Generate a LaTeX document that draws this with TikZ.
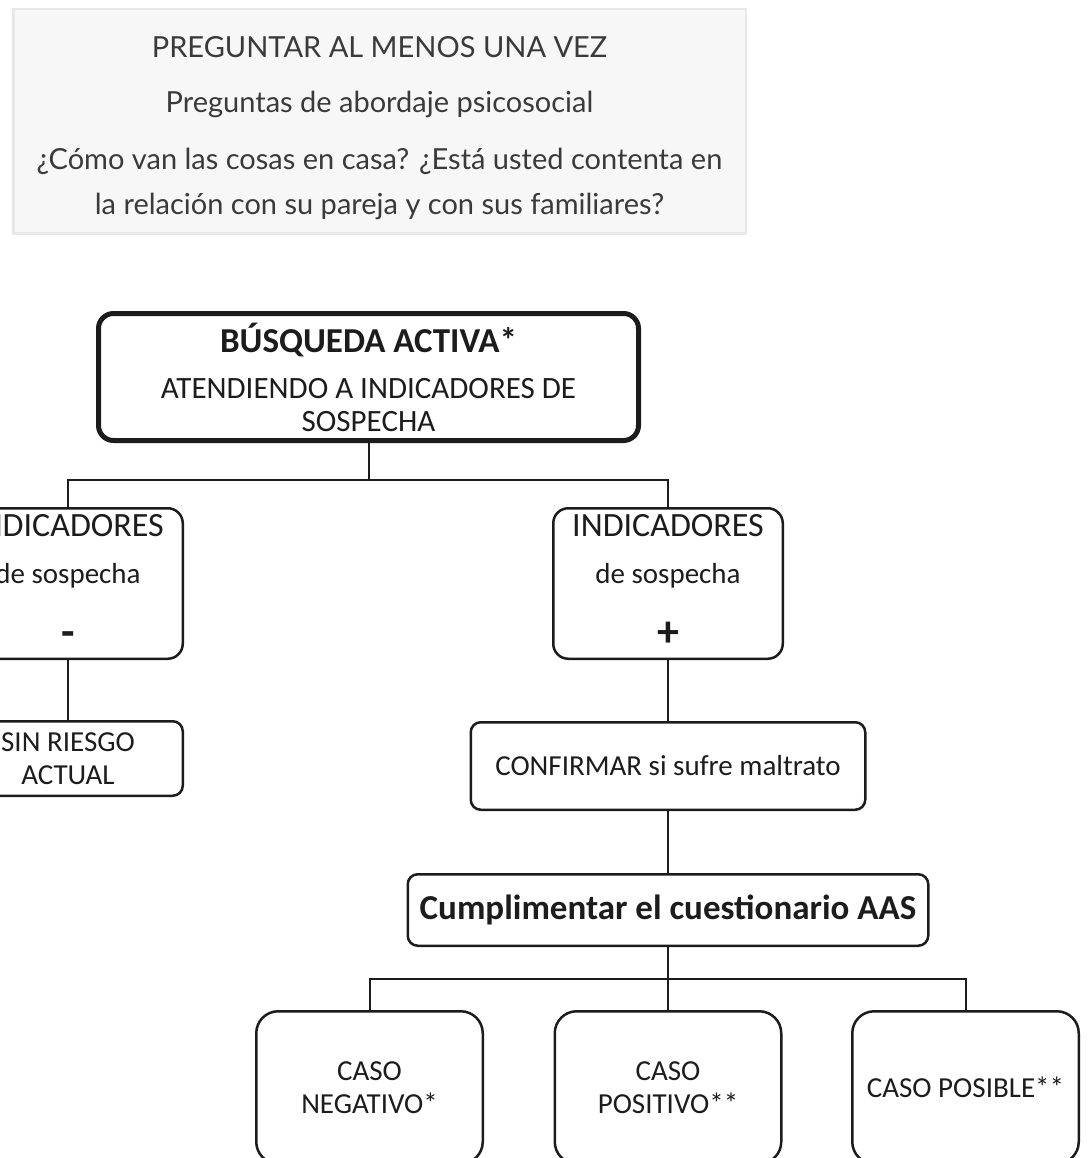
\documentclass[tikz,border=0pt]{standalone}
\usepackage{fontspec}
\setmainfont{Carlito}
\newfontfamily\askfont{Lato}
\usetikzlibrary{positioning}
\definecolor{ink}{HTML}{1C1C1C}
\definecolor{askfill}{HTML}{F7F7F7}
\definecolor{askline}{HTML}{E8E8E8}
\definecolor{asktext}{HTML}{3A3A3A}

\begin{document}
\begin{tikzpicture}
[every node/.style={inner sep=0pt},
 box/.style={draw=ink, line width=2.5pt, rounded corners=10pt, align=center, text=ink, font=\fontsize{29}{33}\selectfont},
 bigbox/.style={box, line width=5pt, rounded corners=15pt},
 indbox/.style={box, rounded corners=15pt, minimum width=229.5pt, minimum height=150.5pt},
 casebox/.style={box, rounded corners=22pt, minimum width=226.5pt, minimum height=152.5pt},
 askbox/.style={fill=askfill, draw=askline, line width=2.5pt, align=center, text=asktext, font=\askfont\fontsize{29}{45}\selectfont},
 link/.style={draw=ink, line width=2pt}]
\useasboundingbox (0pt, 0pt) rectangle (1089pt, -1158pt);
\clip (0pt, 0pt) rectangle (1089pt, -1158pt);
\node (ask) [askbox, minimum width=732.5pt, minimum height=224.5pt] at (379.5pt, -121.5pt) {\rule{0pt}{35pt}PREGUNTAR AL MENOS UNA VEZ\\[10pt] Preguntas de abordaje psicosocial\\[12pt] ¿Cómo van las cosas en casa? ¿Está usted contenta en\\ la relación con su pareja y con sus familiares?};
\node (busq) [bigbox, minimum width=540pt, minimum height=127pt] at (368.5pt, -377pt) {{\bfseries\fontsize{35}{35}\selectfont BÚSQUEDA ACTIVA*}\\[13pt] {\fontsize{31}{33}\selectfont ATENDIENDO A INDICADORES DE}\\ {\fontsize{31}{33}\selectfont SOSPECHA}};
\node (indneg) [indbox] at (68pt, -583.5pt) {{\fontsize{34}{34}\selectfont INDICADORES}\\[14pt] de sospecha\\[30pt] {\bfseries\fontsize{44}{44}\selectfont -}\rule[-6.5pt]{0pt}{6.5pt}};
\node (indpos) [indbox] at (668pt, -583.5pt) {{\fontsize{34}{34}\selectfont INDICADORES}\\[14pt] de sospecha\\[30pt] {\bfseries\fontsize{44}{44}\selectfont +}\rule[-6.5pt]{0pt}{6.5pt}};
\node (sinr) [box, minimum width=229.5pt, minimum height=74.5pt] at (68pt, -758.5pt) {SIN RIESGO\\ ACTUAL};
\node (conf) [box, minimum width=394.5pt, minimum height=87.5pt] at (668pt, -766pt) {CONFIRMAR si sufre maltrato};
\node (cump) [box, minimum width=520.5pt, minimum height=71.5pt] at (668pt, -910pt) {\bfseries\fontsize{35}{35}\selectfont Cumplimentar el cuestionario AAS};
\node (casoneg) [casebox] at (369.5pt, -1087.5pt) {CASO\\ NEGATIVO*};
\node (casopos) [casebox] at (668pt, -1087.5pt) {CASO\\ POSITIVO**};
\node (casoposib) [casebox] at (965.5pt, -1087.5pt) {CASO POSIBLE**};
\coordinate [below=36.5pt of busq] (fork1);
\coordinate [below=32pt of cump] (fork2);
\draw [link] (busq) -- (fork1);
\draw [link] (fork1) -| (indneg);
\draw [link] (fork1) -| (indpos);
\draw [link] (indneg) -- (sinr);
\draw [link] (indpos) -- (conf);
\draw [link] (conf) -- (cump);
\draw [link] (cump) -- (fork2);
\draw [link] (fork2) -| (casoneg);
\draw [link] (fork2) -- (casopos);
\draw [link] (fork2) -| (casoposib);
\end{tikzpicture}
\end{document}
